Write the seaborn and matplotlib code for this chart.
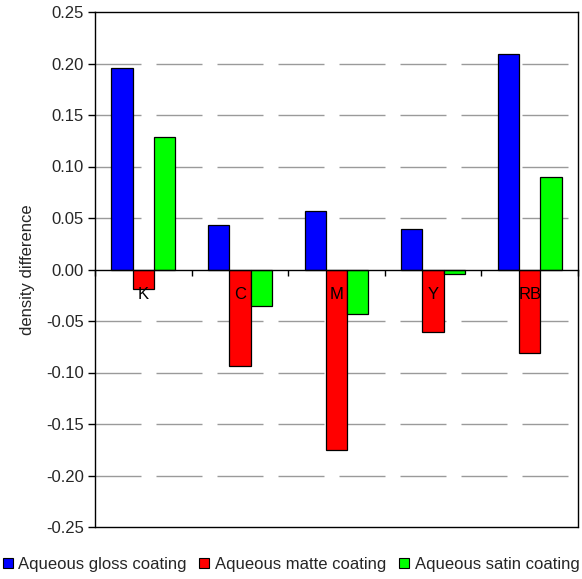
import matplotlib
matplotlib.use("Agg")
import matplotlib.pyplot as plt
import seaborn as sns
import pandas as pd
import numpy as np

inks = ["K", "C", "M", "Y", "RB"]
coatings = ["Aqueous gloss coating", "Aqueous matte coating", "Aqueous satin coating"]
gloss = [0.196, 0.043, 0.057, 0.039, 0.209]
matte = [-0.019, -0.094, -0.175, -0.061, -0.081]
satin = [0.129, -0.035, -0.043, -0.004, 0.090]
colors = ["#0000ff", "#ff0000", "#00ff00"]
y_ticks = [-0.25, -0.20, -0.15, -0.10, -0.05, 0.00, 0.05, 0.10, 0.15, 0.20, 0.25]

rows = []
for name, vals in zip(coatings, [gloss, matte, satin]):
    for ink, v in zip(inks, vals):
        rows.append({"ink": ink, "coating": name, "diff": v})
df = pd.DataFrame(rows)

sns.set_theme(style="white")
plt.rcParams["font.family"] = ["Liberation Sans", "DejaVu Sans"]

fig = plt.figure(figsize=(5.82, 5.79), dpi=100)
ax = fig.add_axes([95 / 582, 52 / 579, 483 / 582, 515 / 579])

sns.barplot(data=df, x="ink", y="diff", hue="coating", order=inks,
            hue_order=coatings, palette=colors, edgecolor="black",
            linewidth=0.9, width=0.66, gap=0, saturation=1, ax=ax,
            legend=False, errorbar=None, zorder=2)

ax.set_ylim(-0.25, 0.25)
ax.set_xlim(-0.5, len(inks) - 0.5)
ax.set_yticks(y_ticks)
ax.set_yticklabels([f"{t:.2f}" for t in y_ticks], fontsize=12)
ax.set_ylabel("density difference", fontsize=12, labelpad=8)
ax.set_xlabel("")

# dashed horizontal gridlines built from short solid segments so the
# first dash starts right at the left frame
x_lo, x_hi = -0.5, len(inks) - 0.5
dash_len, gap_len = 0.476, 0.155
seg_starts = np.arange(x_lo, x_hi, dash_len + gap_len)
seg_ends = np.minimum(seg_starts + dash_len, x_hi)
grid_levels = [t for t in y_ticks[1:-1] if t != 0]
for t in grid_levels:
    ax.hlines([t] * len(seg_starts), seg_starts, seg_ends, colors="#9a9a9a",
              lw=1.0, linestyles="solid", zorder=1.5)

# category axis sits on the zero line
ax.spines["bottom"].set_position(("data", 0))
ax.spines["bottom"].set_zorder(3)
for s in ["left", "right", "top", "bottom"]:
    ax.spines[s].set_color("black")
    ax.spines[s].set_linewidth(1.0)
ax.set_xticks(np.arange(len(inks) + 1) - 0.5)
ax.set_xticklabels([])
ax.tick_params(axis="x", which="major", direction="out", length=4, width=1, color="black", bottom=True)
ax.tick_params(axis="y", direction="out", length=5, width=1, color="black", left=True, pad=3)

# category names drawn on top of the bars, just under the zero line
for i, ink in enumerate(inks):
    ax.annotate(ink, xy=(i, 0), xytext=(0, -18), textcoords="offset points",
                ha="center", va="center", fontsize=12, color="black", zorder=6)

# frame line along the bottom of the plot area
ax.plot([0, 1], [0, 0], transform=ax.transAxes, color="black", lw=1.0, clip_on=False, zorder=3)

handles = [plt.Rectangle((0, 0), 1, 1, facecolor=c, edgecolor="black", lw=0.8) for c in colors]
fig.legend(handles, coatings, loc="lower center", bbox_to_anchor=(0.5, -0.005), ncol=3,
           frameon=False, fontsize=12, handlelength=0.6, handleheight=0.6,
           handletextpad=0.35, columnspacing=0.75, borderaxespad=0.2)

fig.savefig("out.png", dpi=100)
